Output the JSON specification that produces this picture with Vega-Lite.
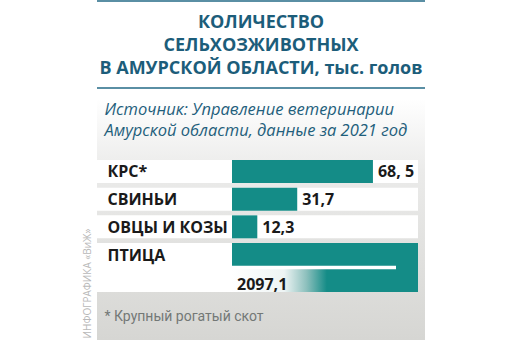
{
  "$schema": "https://vega.github.io/schema/vega-lite/v6.json",
  "width": 328,
  "height": 340,
  "autosize": {"type": "none"},
  "padding": {"left": 97, "right": 87, "top": 0, "bottom": 0},
  "background": "#ffffff",
  "config": {
    "view": {
      "stroke": null,
      "fill": {
        "gradient": "linear", "x1": 0, "y1": 0, "x2": 0, "y2": 1,
        "stops": [
          {"offset": 0, "color": "#5a8fa4"},
          {"offset": 0.005, "color": "#5a8fa4"},
          {"offset": 0.0051, "color": "#ffffff"},
          {"offset": 0.2565, "color": "#ffffff"},
          {"offset": 0.2566, "color": "#5a8fa4"},
          {"offset": 0.2625, "color": "#5a8fa4"},
          {"offset": 0.2626, "color": "#ffffff"},
          {"offset": 0.29, "color": "#ffffff"},
          {"offset": 0.5, "color": "#ebebea"},
          {"offset": 1, "color": "#d6d6d3"}
        ]
      }
    }
  },
  "title": {
    "text": ["КОЛИЧЕСТВО", "СЕЛЬХОЗЖИВОТНЫХ", "В АМУРСКОЙ ОБЛАСТИ, тыс. голов"],
    "anchor": "middle",
    "frame": "group",
    "font": "Open Sans",
    "fontSize": 18,
    "fontWeight": "bold",
    "color": "#1c5d7a",
    "lineHeight": 23,
    "offset": 0,
    "dy": 78
  },
  "data": {
    "values": [
      {"cat": "КРС*", "value": 68.5, "label": "68, 5"},
      {"cat": "СВИНЬИ", "value": 31.7, "label": "31,7"},
      {"cat": "ОВЦЫ И КОЗЫ", "value": 12.3, "label": "12,3"},
      {"cat": "ПТИЦА", "value": 2097.1, "label": "2097,1"}
    ]
  },
  "resolve": {"axis": {"x": "independent", "y": "independent"}},
  "layer": [
    {
      "transform": [{"filter": "datum.cat !== 'ПТИЦА'"}],
      "mark": {"type": "rect", "fill": "#ffffff", "x": "width", "x2": 0, "xOffset": -7, "x2Offset": 6},
      "encoding": {
        "y": {
          "field": "cat", "type": "nominal", "sort": null,
          "scale": {"domain": ["КРС*", "СВИНЬИ", "ОВЦЫ И КОЗЫ", "ПТИЦА"], "range": [160, 266], "paddingInner": 0.17, "paddingOuter": 0},
          "axis": null
        }
      }
    },
    {
      "transform": [{"filter": "datum.cat === 'ПТИЦА'"}],
      "mark": {"type": "rect", "fill": "#ffffff", "x": "width", "x2": 0, "height": 49, "yOffset": 13, "xOffset": -7, "x2Offset": 6},
      "encoding": {
        "y": {"field": "cat", "type": "nominal", "sort": null, "axis": null}
      }
    },
    {
      "transform": [{"filter": "datum.cat !== 'ПТИЦА'"}],
      "mark": {"type": "bar", "color": "#148c87"},
      "encoding": {
        "x": {
          "field": "value", "type": "quantitative",
          "scale": {"domain": [0, 90.4], "range": [135, 321], "clamp": true, "nice": false, "zero": true},
          "axis": {
            "orient": "top",
            "title": ["Источник: Управление ветеринарии", "Амурской области, данные за 2021 год"],
            "titleX": 7, "titleY": 101, "titleAlign": "left", "titleBaseline": "top", "titleAngle": 0,
            "titleFont": "Open Sans", "titleFontSize": 16.5, "titleFontStyle": "italic", "titleFontWeight": "normal",
            "titleColor": "#1f5f7c", "titleLineHeight": 21.5,
            "domain": false, "ticks": false, "labels": false, "grid": false, "zindex": 1
          }
        },
        "y": {"field": "cat", "type": "nominal", "sort": null, "axis": null}
      }
    },
    {
      "transform": [{"filter": "datum.cat === 'ПТИЦА'"}],
      "mark": {"type": "rect", "fill": "#148c87", "height": 49, "yOffset": 13},
      "encoding": {
        "x": {"field": "value", "type": "quantitative", "axis": null},
        "x2": {"datum": 0},
        "y": {"field": "cat", "type": "nominal", "sort": null, "axis": null}
      }
    },
    {
      "transform": [{"filter": "datum.cat === 'ПТИЦА'"}],
      "mark": {
        "type": "rect", "height": 23, "yOffset": 26,
        "fill": {
          "gradient": "linear", "x1": 0, "y1": 0, "x2": 1, "y2": 0,
          "stops": [
            {"offset": 0, "color": "#ffffff"},
            {"offset": 0.28, "color": "#eef4f4"},
            {"offset": 0.4, "color": "#8dc0bd"},
            {"offset": 0.51, "color": "#148c87"},
            {"offset": 1, "color": "#148c87"}
          ]
        }
      },
      "encoding": {
        "x": {"field": "value", "type": "quantitative", "axis": null},
        "x2": {"datum": 0},
        "y": {"field": "cat", "type": "nominal", "sort": null, "axis": null}
      }
    },
    {
      "transform": [{"filter": "datum.cat === 'ПТИЦА'"}],
      "mark": {"type": "rect", "fill": "#ffffff", "height": 3.5, "yOffset": 13, "xOffset": -22},
      "encoding": {
        "x": {"field": "value", "type": "quantitative", "axis": null},
        "x2": {"datum": 0},
        "y": {"field": "cat", "type": "nominal", "sort": null, "axis": null}
      }
    },
    {
      "transform": [{"filter": "datum.cat !== 'ПТИЦА'"}],
      "mark": {"type": "text", "align": "left", "baseline": "middle", "dx": 5, "yOffset": 1, "font": "Open Sans", "fontSize": 16, "fontWeight": "bold", "color": "#1a1a1a"},
      "encoding": {
        "x": {"field": "value", "type": "quantitative", "axis": null},
        "y": {
          "field": "cat", "type": "nominal", "sort": null,
          "axis": {
            "orient": "left",
            "title": "ИНФОГРАФИКА «ВиЖ»",
            "titleX": -5, "titleY": 283, "titleAngle": 270,
            "titleAlign": "center", "titleBaseline": "bottom",
            "titleFont": "Open Sans", "titleFontSize": 10, "titleFontWeight": "normal", "titleColor": "#b8b8b8",
            "labelAlign": "left", "labelBaseline": "middle", "labelPadding": -10, "labelOffset": 1,
            "labelFont": "Open Sans", "labelFontSize": 16, "labelFontWeight": "bold", "labelColor": "#1a1a1a",
            "ticks": false, "tickSize": 0, "domain": false, "grid": false, "zindex": 1
          }
        },
        "text": {"field": "label"}
      }
    },
    {
      "transform": [{"filter": "datum.cat === 'ПТИЦА'"}],
      "mark": {"type": "text", "align": "left", "baseline": "middle", "dx": 5, "yOffset": 30, "font": "Open Sans", "fontSize": 16, "fontWeight": "bold", "color": "#1a1a1a"},
      "encoding": {
        "x": {
          "datum": 0, "type": "quantitative",
          "axis": {
            "orient": "bottom",
            "title": "* Крупный рогатый скот",
            "titleX": 7, "titleY": -20, "titleAlign": "left", "titleBaseline": "alphabetic", "titleAngle": 0,
            "titleFont": "Roboto", "titleFontSize": 14, "titleFontWeight": "normal", "titleColor": "#737876",
            "domain": false, "ticks": false, "labels": false, "grid": false
          }
        },
        "y": {"field": "cat", "type": "nominal", "sort": null, "axis": null},
        "text": {"field": "label"}
      }
    }
  ]
}
